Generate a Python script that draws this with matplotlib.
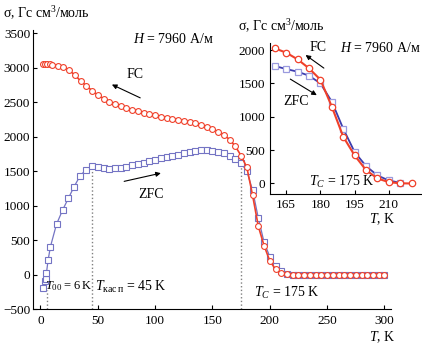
import numpy as np
import matplotlib
matplotlib.use("Agg")
import matplotlib.pyplot as plt

plt.rcParams.update({
    "font.family": ["Liberation Serif", "DejaVu Serif"],
    "font.size": 10,
    "mathtext.fontset": "custom",
    "mathtext.rm": "Liberation Serif",
    "mathtext.it": "Liberation Serif:italic",
    "xtick.direction": "in",
    "ytick.direction": "in",
    "xtick.major.size": 3,
    "ytick.major.size": 3,
    "xtick.labelsize": 9.5,
    "ytick.labelsize": 9.5,
    "axes.linewidth": 0.8,
})

# FC curve (T, K ; sigma, Gs cm^3/mol)
fc_T = [2, 4, 6, 8, 10, 15, 20, 25, 30, 35, 40, 45, 50, 55, 60, 65, 70, 75, 80, 85,
        90, 95, 100, 105, 110, 115, 120, 125, 130, 135, 140, 145, 150, 155, 160, 165,
        170, 175, 180, 185, 190, 195, 200, 205, 210, 215, 220, 225, 230, 235, 240,
        245, 250, 255, 260, 265, 270, 275, 280, 285, 290, 295, 300]
fc_sigma = [3050, 3050, 3050, 3050, 3045, 3033, 3014, 2967, 2896, 2811, 2740, 2669,
            2606, 2555, 2512, 2474, 2441, 2417, 2393, 2370, 2346, 2327, 2313, 2293,
            2279, 2265, 2246, 2232, 2218, 2199, 2171, 2142, 2110, 2075, 2025, 1960,
            1860, 1725, 1555, 1150, 700, 420, 200, 75, 20, 3, 0, 0, 0, 0, 0,
            0, 0, 0, 0, 0, 0, 0, 0, 0, 0, 0, 0]

# ZFC curve
zfc_T = [2.3, 3.8, 4.6, 5.2, 6.7, 8.7, 14, 19.4, 24.3, 29.3, 34.5, 39.5, 44.6,
         50, 55, 60, 65, 70, 75, 80, 85, 90, 95, 100, 105, 110, 115, 120, 125, 130,
         135, 140, 145, 150, 155, 160, 165, 170, 175, 180, 185, 190, 195, 200, 205,
         210, 215, 220, 225, 230, 235, 240, 245, 250, 255, 260, 265, 270, 275, 280,
         285, 290, 295, 300]
zfc_sigma = [-200, -100, -60, 20, 213, 405, 730, 940, 1105, 1275, 1430, 1520, 1571,
             1560, 1545, 1538, 1540, 1552, 1566, 1585, 1605, 1625, 1647, 1663, 1685,
             1700, 1720, 1740, 1760, 1778, 1793, 1805, 1808, 1800, 1782, 1760, 1715,
             1675, 1615, 1500, 1225, 820, 470, 260, 120, 45, 10, 0, 0, 0, 0, 0, 0,
             0, 0, 0, 0, 0, 0, 0, 0, 0, 0, 0]

# characteristic temperatures (T, top of dotted line)
marks_T = [6, 45, 175]
marks_top = [-220, 1571, 1560]

red = "#f0402a"
blue_main = "#7474c4"
blue_line = "#3c3cae"
blue_sq = "#9a9ade"

fig = plt.figure(figsize=(4.22, 3.44), dpi=100)

# ---- main panel
ax = fig.add_axes([33/422, 35/344, 358/422, 279/344])
for s in ["top", "right"]:
    ax.spines[s].set_visible(False)

ax.plot(zfc_T, zfc_sigma, color=blue_main, lw=0.9, marker="s", ms=3.8,
        mfc="white", mec=blue_main, mew=0.8, zorder=3)
ax.plot(fc_T, fc_sigma, color=red, lw=1.2, marker="o", ms=4.2,
        mfc="white", mec=red, mew=0.8, zorder=4)

for t, top in zip(marks_T, marks_top):
    ax.plot([t, t], [-500, top], ls=":", color="#808080", lw=1.0, zorder=1)

ax.set_xlim(-6.5, 305.7)
ax.set_ylim(-500, 3550)
ax.set_xticks([0, 50, 100, 150, 200, 250, 300])
ax.set_yticks([-500, 0, 500, 1000, 1500, 2000, 2500, 3000, 3500])
ax.set_yticklabels(["\u2212500", "0", "500", "1000", "1500", "2000", "2500", "3000", "3500"])
ax.tick_params(axis="x", pad=4.5)
ax.tick_params(axis="y", pad=2)

ax.text(82.6, 2906, "FC", ha="center", va="center")
ax.annotate("", xy=(62.3, 2758), xytext=(87, 2565),
            arrowprops=dict(arrowstyle="-|>", color="black", lw=0.8,
                            mutation_scale=7, shrinkA=0, shrinkB=0))
ax.text(96.5, 1165, "ZFC", ha="center", va="center")
ax.annotate("", xy=(105, 1472), xytext=(73, 1353),
            arrowprops=dict(arrowstyle="-|>", color="black", lw=0.8,
                            mutation_scale=7, shrinkA=0, shrinkB=0))
ax.text(81, 3417, "$H$ = 7960 А/м", ha="left", va="center")
ax.text(4.3, -173, "$T_{00}$\u2009=\u20096\u2009K", ha="left", va="center", fontsize=9)
ax.text(47.8, -173, r"$T_{\mathrm{кас\,п}}$ = 45 K", ha="left", va="center")
ax.text(186, -273, "$T_C$ = 175 K", ha="left", va="center")

fig.text(3/422, 1 - 13/344, "σ, Гс см$^3$/моль", ha="left", va="center")
fig.text(396/422, 1 - 337/344, "$T$, K", ha="right", va="center")

# ---- inset
ins = fig.add_axes([270/422, (344-193.5)/344, 152/422, 150.5/344])
ins.patch.set_alpha(0)
for s in ["top", "right"]:
    ins.spines[s].set_visible(False)

fc_in = [(t, s) for t, s in zip(fc_T, fc_sigma) if 158 <= t <= 222]
zfc_in = [(t, s) for t, s in zip(zfc_T, zfc_sigma) if 158 <= t <= 216]
ins.plot([p[0] for p in zfc_in], [p[1] for p in zfc_in], color=blue_line, lw=1.3,
         marker="s", ms=4.2, mfc="white", mec=blue_sq, mew=0.9, zorder=3)
ins.plot([p[0] for p in fc_in], [p[1] for p in fc_in], color=red, lw=1.5,
         marker="o", ms=4.6, mfc="white", mec=red, mew=0.9, zorder=4)

ins.set_xlim(157.9, 224.5)
ins.set_ylim(-150, 2105)
ins.set_xticks([165, 180, 195, 210])
ins.set_yticks([0, 500, 1000, 1500, 2000])
ins.tick_params(axis="x", pad=4)
ins.tick_params(axis="y", pad=3.5)

ins.text(179, 2038, "FC", ha="center", va="center")
ins.annotate("", xy=(173.5, 1925), xytext=(181.5, 1729),
             arrowprops=dict(arrowstyle="-|>", color="black", lw=0.8,
                             mutation_scale=7, shrinkA=0, shrinkB=0))
ins.text(169.2, 1225, "ZFC", ha="center", va="center")
ins.annotate("", xy=(178.4, 1323), xytext=(166.8, 1564),
             arrowprops=dict(arrowstyle="-|>", color="black", lw=0.8,
                             mutation_scale=7, shrinkA=0, shrinkB=0))
ins.text(188.6, 2030, "$H$ = 7960 А/м", ha="left", va="center")
ins.text(175.2, 30, "$T_C$ = 175 K", ha="left", va="center")

fig.text(238/422, 1 - 26/344, "σ, Гс см$^3$/моль", ha="left", va="center")
fig.text(396/422, 1 - 219/344, "$T$, K", ha="right", va="center")

fig.savefig("out.png", dpi=100)
